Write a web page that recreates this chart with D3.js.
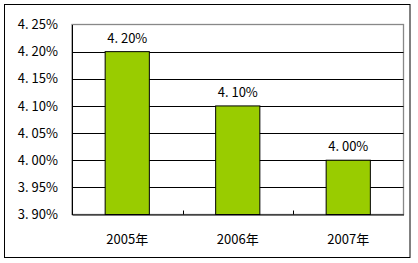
<!DOCTYPE html>
<html>
<head>
<meta charset="utf-8">
<script src="https://cdn.jsdelivr.net/npm/d3@7"></script>
<style>
body { margin: 0; background: #fff; }
text { font-family: "Noto Sans CJK JP", "DejaVu Sans", sans-serif; font-size: 13px; fill: #000; }
</style>
</head>
<body>
<div id="chart"></div>
<script>
var years = ["2005年", "2006年", "2007年"]
var rates = [0.042, 0.041, 0.040]
var yTicks = [0.039, 0.0395, 0.040, 0.0405, 0.041, 0.0415, 0.042, 0.0425]

var W = 418, H = 263
var pLeft = 72, pTop = 24.5, pRight = 403.5, pBottom = 214.5

var svg = d3.select("#chart").append("svg").attr("width", W).attr("height", H)

// outer frame
svg.append("rect").attr("x", 4.5).attr("y", 4.5).attr("width", 405.5).attr("height", 253)
  .attr("fill", "#fff").attr("stroke", "#000").attr("stroke-width", 1)

var x = d3.scaleBand().domain(years).range([pLeft, pRight]).paddingInner(0.6).paddingOuter(0.3)
var xb = d3.scaleBand().domain(years).range([pLeft, pRight])
var y = d3.scaleLinear().domain([0.039, 0.0425]).range([pBottom, pTop])

var fmt = function(v) { return d3.format(".2f")(v * 100).replace(".", ". ") + "%" }

// plot area border (gray top/right)
svg.append("rect").attr("x", pLeft).attr("y", pTop).attr("width", pRight - pLeft).attr("height", pBottom - pTop)
  .attr("fill", "none").attr("stroke", "#888").attr("stroke-width", 1.3)

// gridlines
svg.append("g").selectAll("line").data(yTicks.slice(1, -1)).enter().append("line")
  .attr("x1", pLeft).attr("x2", pRight)
  .attr("y1", function(d) { return Math.round(y(d)) + 0.5 }).attr("y2", function(d) { return Math.round(y(d)) + 0.5 })
  .attr("stroke", "#000").attr("stroke-width", 1)

// bars
svg.append("g").selectAll("rect").data(rates).enter().append("rect")
  .attr("x", function(d, i) { return x(years[i]) })
  .attr("y", function(d) { return y(d) })
  .attr("width", x.bandwidth())
  .attr("height", function(d) { return pBottom - y(d) })
  .attr("fill", "#99cc00").attr("stroke", "#000").attr("stroke-width", 1)

// data labels
svg.append("g").selectAll("text").data(rates).enter().append("text")
  .attr("x", function(d, i) { return x(years[i]) + x.bandwidth() / 2 })
  .attr("y", function(d) { return y(d) - 9 })
  .attr("text-anchor", "middle")
  .text(fmt)

// y axis
var yAxis = svg.append("g").attr("transform", "translate(" + pLeft + ",0)")
  .call(d3.axisLeft(y).tickValues(yTicks).tickSize(0).tickPadding(14).tickFormat(fmt))
yAxis.select(".domain").attr("stroke", "#000")
yAxis.selectAll("text").style("font-size", "13px")

// x axis
var xAxis = svg.append("g").attr("transform", "translate(0," + pBottom + ")")
  .call(d3.axisBottom(xb).tickSize(0).tickPadding(20))
xAxis.select(".domain").attr("stroke", "#000")
xAxis.selectAll("text").style("font-size", "13px")

// category separator ticks (pointing up)
svg.append("g").selectAll("line").data(years.slice(1)).enter().append("line")
  .attr("x1", function(d) { return Math.round(xb(d)) + 0.5 }).attr("x2", function(d) { return Math.round(xb(d)) + 0.5 })
  .attr("y1", pBottom).attr("y2", pBottom - 4)
  .attr("stroke", "#000")
</script>
</body>
</html>
